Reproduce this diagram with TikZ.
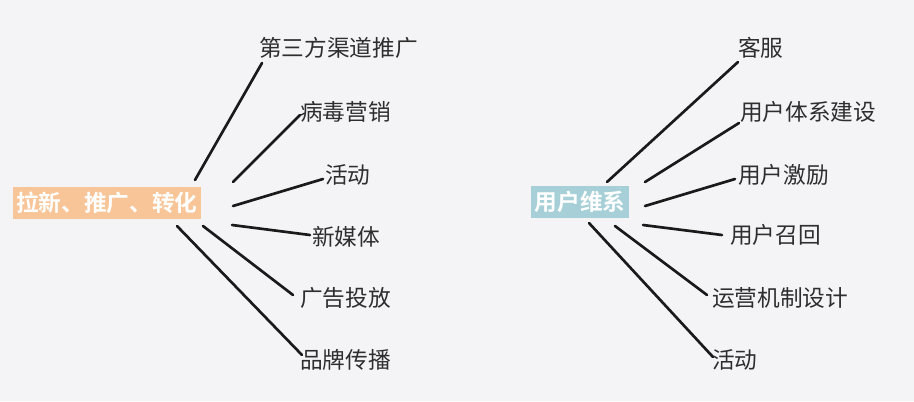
\documentclass[tikz,border=0pt]{standalone}
\usepackage{fontspec}
\newfontfamily\cjk{Noto Sans CJK SC}[BoldFont={Noto Sans CJK SC Bold}]
\definecolor{bgc}{HTML}{F4F3F6}
\definecolor{orangebox}{HTML}{F8C598}
\definecolor{tealbox}{HTML}{A7CFD8}
\definecolor{txt}{HTML}{2E2E2E}
\definecolor{linec}{HTML}{1A1A1A}
\begin{document}
\begin{tikzpicture}[x=0.75pt,y=-0.75pt,
  leaf/.style={anchor=west,inner sep=0pt,text=txt,font=\cjk\fontsize{17}{20}\selectfont},
  hub/.style={inner xsep=2.5pt,inner ysep=0pt,minimum height=23.5pt,text=white,font=\cjk\bfseries\fontsize{17}{20}\selectfont},
  conn/.style={draw=linec,line width=2pt,line cap=round}]
\fill[bgc] (0,0) rectangle (914,401);
\useasboundingbox (0,0) rectangle (914,401);
% hubs
\node[hub,fill=orangebox] (L) at (107,203) {拉新、推广、转化};
\node[hub,fill=tealbox] (R) at (580,202) {用户维系};
% left leaves
\node[leaf] (l1) at (259,48) {第三方渠道推广};
\node[leaf] (l2) at (300,112) {病毒营销};
\node[leaf] (l3) at (325,175) {活动};
\node[leaf] (l4) at (312,237) {新媒体};
\node[leaf] (l5) at (300,298) {广告投放};
\node[leaf] (l6) at (300,360) {品牌传播};
% right leaves
\node[leaf] (r1) at (738,48) {客服};
\node[leaf] (r2) at (740,112) {用户体系建设};
\node[leaf] (r3) at (738,175) {用户激励};
\node[leaf] (r4) at (730,235) {用户召回};
\node[leaf] (r5) at (712,298) {运营机制设计};
\node[leaf] (r6) at (712,360) {活动};
% connector end points
\coordinate (la1) at (195,180); \coordinate (lb1) at (262,63);
\coordinate (la2) at (233,182); \coordinate (lb2) at (300,115);
\coordinate (la3) at (233,206); \coordinate (lb3) at (323,179);
\coordinate (la4) at (232,225); \coordinate (lb4) at (310,235);
\coordinate (la5) at (203,226); \coordinate (lb5) at (293,295);
\coordinate (la6) at (177,226); \coordinate (lb6) at (302,355);
\coordinate (ra1) at (607,182); \coordinate (rb1) at (738,62);
\coordinate (ra2) at (645,182); \coordinate (rb2) at (739,123);
\coordinate (ra3) at (645,206); \coordinate (rb3) at (735,179);
\coordinate (ra4) at (643,225); \coordinate (rb4) at (722,235);
\coordinate (ra5) at (615,226); \coordinate (rb5) at (707,295);
\coordinate (ra6) at (589,223); \coordinate (rb6) at (713,357);
\foreach \i in {1,...,6} {
  \draw[conn] (la\i) -- (lb\i);
  \draw[conn] (ra\i) -- (rb\i);
}
\end{tikzpicture}
\end{document}
